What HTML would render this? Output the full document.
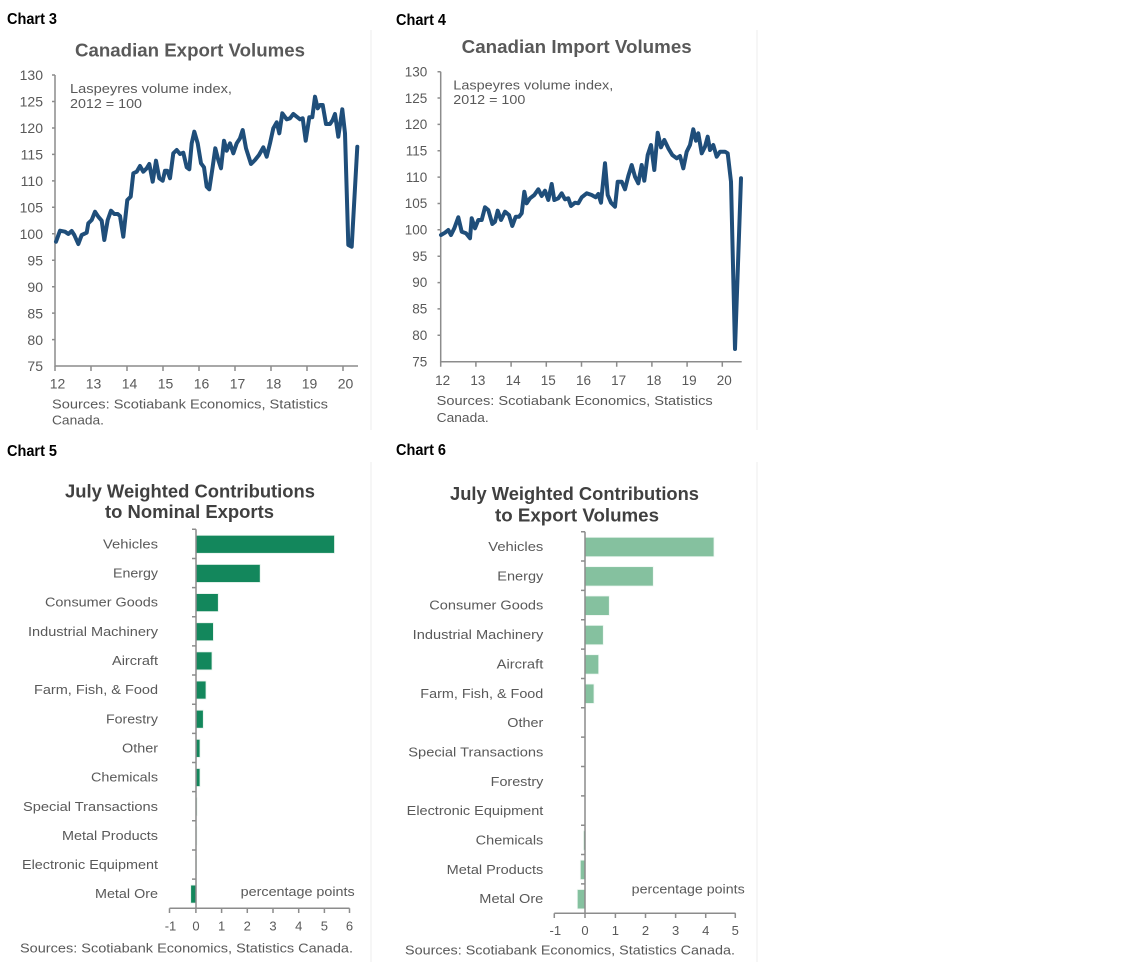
<!DOCTYPE html>
<html><head><meta charset="utf-8"><style>
html,body{margin:0;padding:0;background:#fff;}
svg{display:block;font-family:"Liberation Sans",Arial,sans-serif;}
.t{fill:#595959;font-size:13px;}
.ti{fill:#595959;font-size:18px;font-weight:bold;}
.ti2{fill:#404040;font-size:18px;font-weight:bold;}
.ch{fill:#000;font-size:16px;font-weight:bold;}
.ax{stroke:#8c8c8c;stroke-width:1.5;fill:none;}
</style></head><body>
<svg width="1133" height="966" viewBox="0 0 1133 966" xmlns="http://www.w3.org/2000/svg">
<rect width="1133" height="966" fill="#fff"/>
<!-- faint borders -->
<line x1="371" y1="30" x2="371" y2="430" stroke="#eeeeee" stroke-width="1"/>
<line x1="757" y1="30" x2="757" y2="430" stroke="#eeeeee" stroke-width="1"/>
<line x1="371" y1="462" x2="371" y2="962" stroke="#eeeeee" stroke-width="1"/>
<line x1="757" y1="462" x2="757" y2="962" stroke="#eeeeee" stroke-width="1"/>

<!-- ================= CHART 3 ================= -->
<text class="ch" x="7" y="24" textLength="50" lengthAdjust="spacingAndGlyphs">Chart 3</text>
<text class="ti" x="75" y="56.5" textLength="230" lengthAdjust="spacingAndGlyphs">Canadian Export Volumes</text>
<g class="t" style="font-size:14px" text-anchor="end">
<text x="43" y="80">130</text><text x="43" y="106.5">125</text><text x="43" y="133">120</text>
<text x="43" y="159.5">115</text><text x="43" y="186">110</text><text x="43" y="212.5">105</text>
<text x="43" y="239">100</text><text x="43" y="265.5">95</text><text x="43" y="292">90</text>
<text x="43" y="318.5">85</text><text x="43" y="345">80</text><text x="43" y="371">75</text>
</g>
<path class="ax" d="M55,75 V366 H358"/>
<path class="ax" d="M52,75.05H55M52,101.5H55M52,128H55M52,154.4H55M52,180.9H55M52,207.3H55M52,233.8H55M52,260.2H55M52,286.7H55M52,313.1H55M52,339.6H55
M55,366V371M91,366V371M127,366V371M163,366V371M199,366V371M235,366V371M271,366V371M307,366V371M343,366V371"/>
<g class="t" style="font-size:14px" text-anchor="middle">
<text x="57.5" y="388.5">12</text><text x="93.5" y="388.5">13</text><text x="129.5" y="388.5">14</text>
<text x="165.5" y="388.5">15</text><text x="201.5" y="388.5">16</text><text x="237.5" y="388.5">17</text>
<text x="273.5" y="388.5">18</text><text x="309.5" y="388.5">19</text><text x="345.5" y="388.5">20</text>
</g>
<text class="t" x="70" y="93" textLength="162" lengthAdjust="spacingAndGlyphs">Laspeyres volume index,</text>
<text class="t" x="70" y="108" textLength="72" lengthAdjust="spacingAndGlyphs">2012 = 100</text>
<polyline fill="none" stroke="#1f4e7a" stroke-width="4" stroke-linejoin="round" stroke-linecap="round" points="
56,241.7 60,230.7 65,231.7 68.3,234 71.7,231 74.3,235 78.3,244 81.7,235 86.7,232.7 88.3,223.3 91.7,220 95,211.7 98.3,216.7 101.7,220.7 104.3,240 107.7,220 111,210.7 114.3,214 117.7,214 120,216 123.3,236.7 127.3,200 130.7,196.7 133.3,173.3 136.7,171.7 140,166 143.3,171.7 146.7,168.3 149.3,164 152.7,181.7 156,160.7 159.3,178.3 162.7,180.7 165,170.7 167.3,170.7 170,178.3 173.3,153.3 176.7,150 180,154 183.3,152.7 186.7,167.3 189.3,169.3 191.7,143.3 194.3,131.7 197.7,143.3 201,163.3 204,167.3 206.7,186.7 209.3,189.3 212.7,166.7 215.3,148.3 218.3,160 221,168.3 224,140.7 226.7,150.7 230,143.3 233.3,153.3 236.7,143.3 240,138.3 242.7,130 246,148.3 251,164 255,160 259,155 263.3,147.3 266.7,156.7 270,143.3 273.3,128.3 276.7,122.3 279.3,133.3 282.3,113.3 286.7,119.3 290,118.3 293.3,114 296.7,116.7 300,119.3 302.7,118.3 305.7,140.7 309.3,117.3 312.3,117.3 315,96.7 317.7,108.3 320,105 322.7,105 326,124 330,124 332.7,120 335,114 338.3,136.7 342.3,109.3 345,133.3 348.3,245 351.7,246.7 357.3,146.7"/>
<text class="t" x="52" y="408.5" textLength="276" lengthAdjust="spacingAndGlyphs">Sources: Scotiabank Economics, Statistics</text>
<text class="t" x="52" y="424.5" textLength="52" lengthAdjust="spacingAndGlyphs">Canada.</text>

<!-- ================= CHART 4 ================= -->
<text class="ch" x="396" y="25" textLength="50" lengthAdjust="spacingAndGlyphs">Chart 4</text>
<text class="ti" x="461.7" y="53" textLength="230" lengthAdjust="spacingAndGlyphs">Canadian Import Volumes</text>
<g class="t" style="font-size:13.5px" text-anchor="end">
<text x="427.3" y="76.5">130</text><text x="427.3" y="102.8">125</text><text x="427.3" y="129.2">120</text>
<text x="427.3" y="155.5">115</text><text x="427.3" y="181.9">110</text><text x="427.3" y="208.2">105</text>
<text x="427.3" y="234.6">100</text><text x="427.3" y="260.9">95</text><text x="427.3" y="287.2">90</text>
<text x="427.3" y="313.6">85</text><text x="427.3" y="339.9">80</text><text x="427.3" y="366.3">75</text>
</g>
<path class="ax" d="M440.7,71.7 V361.7 H741.7"/>
<path class="ax" d="M437.5,71.7H440.7M437.5,98H440.7M437.5,124.4H440.7M437.5,150.8H440.7M437.5,177.1H440.7M437.5,203.5H440.7M437.5,229.8H440.7M437.5,256.2H440.7M437.5,282.6H440.7M437.5,308.9H440.7M437.5,335.3H440.7
M440.7,361.7V366.7M475.9,361.7V366.7M511.1,361.7V366.7M546.3,361.7V366.7M581.5,361.7V366.7M616.7,361.7V366.7M651.9,361.7V366.7M687.1,361.7V366.7M722.3,361.7V366.7"/>
<g class="t" style="font-size:13.5px" text-anchor="middle">
<text x="442.7" y="385">12</text><text x="477.9" y="385">13</text><text x="513.1" y="385">14</text>
<text x="548.3" y="385">15</text><text x="583.5" y="385">16</text><text x="618.7" y="385">17</text>
<text x="653.9" y="385">18</text><text x="689.1" y="385">19</text><text x="724.3" y="385">20</text>
</g>
<text class="t" x="453.3" y="89.7" textLength="160" lengthAdjust="spacingAndGlyphs">Laspeyres volume index,</text>
<text class="t" x="453.3" y="104" textLength="72" lengthAdjust="spacingAndGlyphs">2012 = 100</text>
<polyline fill="none" stroke="#1f4e7a" stroke-width="4" stroke-linejoin="round" stroke-linecap="round" points="
441,235 445,232.7 448.3,230 451,235 454.3,228.3 458.3,217.3 461.7,231.7 466,233.3 470,238.3 471.7,218.3 475,228.3 478.3,220 481.7,220 485,207.3 488.3,210 492.3,224 495,221.7 497.7,210.7 501,220 505,211.7 509,215 512.3,226 515.7,216.7 519,216.7 521.7,213.3 524.3,191.7 526.7,203.3 530,198.3 534.3,195 538.3,189.3 541.7,196 545,190.7 548.3,200 551.7,184 554.3,200 558.3,198.3 561.7,193.3 565,199.3 568.3,198.3 571,206 575,202.7 578.3,203.3 581.7,197.3 586.7,193.3 591.7,195 595.7,197.3 598.3,194 601,202.7 605,163.3 607.7,195 611,202.7 615,206.7 617.7,181.7 621.7,181.7 625,189.3 628.3,176 631.7,165 635,176.7 638.3,183.3 641.7,165 644.3,180.7 647.7,155 651,145 654.3,170 657.7,132.7 661,147.3 664.3,140 668.3,148.3 672.3,155 676.7,158.3 680,156 683.3,168.3 686.7,151.7 690,145 693.3,129.3 696,140.7 698.3,133.3 701.7,153.3 705,146.7 707.7,136.7 710,150 713.3,145 716.7,156.7 720,151.7 725,151.7 727.7,153.3 731,181.7 735,349 741,178.3"/>
<text class="t" x="436.7" y="405" textLength="276" lengthAdjust="spacingAndGlyphs">Sources: Scotiabank Economics, Statistics</text>
<text class="t" x="436.7" y="422" textLength="52" lengthAdjust="spacingAndGlyphs">Canada.</text>

<!-- ================= CHART 5 ================= -->
<text class="ch" x="7" y="456" textLength="50" lengthAdjust="spacingAndGlyphs">Chart 5</text>
<text class="ti2" x="65" y="497.5" textLength="250" lengthAdjust="spacingAndGlyphs">July Weighted Contributions</text>
<text class="ti2" x="105" y="518" textLength="169" lengthAdjust="spacingAndGlyphs">to Nominal Exports</text>
<g fill="#13875c" stroke="#e6f2ec" stroke-width="0.8">
<rect x="196" y="535.3" width="138.5" height="18"/>
<rect x="196" y="564.45" width="64.2" height="18"/>
<rect x="196" y="593.6" width="22.3" height="18"/>
<rect x="196" y="622.75" width="17.4" height="18"/>
<rect x="196" y="651.9" width="16" height="18"/>
<rect x="196" y="681.05" width="10" height="18"/>
<rect x="196" y="710.2" width="7.3" height="18"/>
<rect x="196" y="739.35" width="4" height="18"/>
<rect x="196" y="768.5" width="4" height="18"/>
<rect x="196" y="797.65" width="1" height="18"/>
<rect x="196" y="826.8" width="0.8" height="18"/>
<rect x="196" y="855.95" width="0.6" height="18"/>
<rect x="190.7" y="885.1" width="5.3" height="18"/>
</g>
<path class="ax" d="M196,529.3V908.3M169.5,908.3H349.5"/>
<path class="ax" d="M192,529.3H196M192,558.45H196M192,587.6H196M192,616.75H196M192,645.9H196M192,675.05H196M192,704.2H196M192,733.35H196M192,762.5H196M192,791.65H196M192,820.8H196M192,849.95H196M192,879.1H196
M169.5,908.3V913M195.9,908.3V913M221.6,908.3V913M247.3,908.3V913M273,908.3V913M298.7,908.3V913M324.4,908.3V913M349.5,908.3V913"/>
<g class="t" text-anchor="end">
<text x="158" y="548.4" textLength="55" lengthAdjust="spacingAndGlyphs">Vehicles</text>
<text x="158" y="577.6" textLength="45" lengthAdjust="spacingAndGlyphs">Energy</text>
<text x="158" y="606.7" textLength="113" lengthAdjust="spacingAndGlyphs">Consumer Goods</text>
<text x="158" y="635.9" textLength="130" lengthAdjust="spacingAndGlyphs">Industrial Machinery</text>
<text x="158" y="665" textLength="46" lengthAdjust="spacingAndGlyphs">Aircraft</text>
<text x="158" y="694.2" textLength="124" lengthAdjust="spacingAndGlyphs">Farm, Fish, &amp; Food</text>
<text x="158" y="723.3" textLength="52" lengthAdjust="spacingAndGlyphs">Forestry</text>
<text x="158" y="752.5" textLength="36" lengthAdjust="spacingAndGlyphs">Other</text>
<text x="158" y="781.6" textLength="67" lengthAdjust="spacingAndGlyphs">Chemicals</text>
<text x="158" y="810.8" textLength="135" lengthAdjust="spacingAndGlyphs">Special Transactions</text>
<text x="158" y="839.9" textLength="96" lengthAdjust="spacingAndGlyphs">Metal Products</text>
<text x="158" y="869.1" textLength="136" lengthAdjust="spacingAndGlyphs">Electronic Equipment</text>
<text x="158" y="898.2" textLength="63" lengthAdjust="spacingAndGlyphs">Metal Ore</text>
</g>
<text class="t" x="240.7" y="896" textLength="114" lengthAdjust="spacingAndGlyphs">percentage points</text>
<g class="t" text-anchor="middle">
<text x="170.5" y="930.5">-1</text><text x="196" y="930.5">0</text><text x="221.6" y="930.5">1</text>
<text x="247.3" y="930.5">2</text><text x="273" y="930.5">3</text><text x="298.7" y="930.5">4</text>
<text x="324.4" y="930.5">5</text><text x="349.5" y="930.5">6</text>
</g>
<text class="t" x="20" y="952.5" textLength="333" lengthAdjust="spacingAndGlyphs">Sources: Scotiabank Economics, Statistics Canada.</text>

<!-- ================= CHART 6 ================= -->
<text class="ch" x="396" y="455" textLength="50" lengthAdjust="spacingAndGlyphs">Chart 6</text>
<text class="ti2" x="450" y="500" textLength="249" lengthAdjust="spacingAndGlyphs">July Weighted Contributions</text>
<text class="ti2" x="495" y="521.5" textLength="164" lengthAdjust="spacingAndGlyphs">to Export Volumes</text>
<g fill="#85c19f" stroke="#eef7f2" stroke-width="0.8">
<rect x="585" y="537.3" width="129" height="19.4"/>
<rect x="585" y="566.65" width="68.3" height="19.4"/>
<rect x="585" y="596" width="24.3" height="19.4"/>
<rect x="585" y="625.35" width="18.3" height="19.4"/>
<rect x="585" y="654.7" width="13.7" height="19.4"/>
<rect x="585" y="684.05" width="9" height="19.4"/>
<rect x="583.5" y="830.8" width="1.5" height="19.4"/>
<rect x="580.3" y="860.15" width="4.7" height="19.4"/>
<rect x="577.3" y="889.5" width="7.7" height="19.4"/>
</g>
<path class="ax" d="M585,531.7V913.3M554.3,913.3H735.5"/>
<path class="ax" d="M581,531.7H585M581,561.05H585M581,590.4H585M581,619.75H585M581,649.1H585M581,678.45H585M581,707.8H585M581,737.15H585M581,766.5H585M581,795.85H585M581,825.2H585M581,854.55H585M581,883.9H585
M554.3,913.3V918M585,913.3V918M615.4,913.3V918M645.5,913.3V918M675.6,913.3V918M705.7,913.3V918M735.3,913.3V918"/>
<g class="t" text-anchor="end">
<text x="543.3" y="551" textLength="55" lengthAdjust="spacingAndGlyphs">Vehicles</text>
<text x="543.3" y="580.4" textLength="46" lengthAdjust="spacingAndGlyphs">Energy</text>
<text x="543.3" y="609.7" textLength="114" lengthAdjust="spacingAndGlyphs">Consumer Goods</text>
<text x="543.3" y="639.1" textLength="130.6" lengthAdjust="spacingAndGlyphs">Industrial Machinery</text>
<text x="543.3" y="668.4" textLength="46.6" lengthAdjust="spacingAndGlyphs">Aircraft</text>
<text x="543.3" y="697.8" textLength="123" lengthAdjust="spacingAndGlyphs">Farm, Fish, &amp; Food</text>
<text x="543.3" y="727.1" textLength="36" lengthAdjust="spacingAndGlyphs">Other</text>
<text x="543.3" y="756.5" textLength="135" lengthAdjust="spacingAndGlyphs">Special Transactions</text>
<text x="543.3" y="785.8" textLength="52.6" lengthAdjust="spacingAndGlyphs">Forestry</text>
<text x="543.3" y="815.2" textLength="136.6" lengthAdjust="spacingAndGlyphs">Electronic Equipment</text>
<text x="543.3" y="844.5" textLength="67.6" lengthAdjust="spacingAndGlyphs">Chemicals</text>
<text x="543.3" y="873.9" textLength="96.6" lengthAdjust="spacingAndGlyphs">Metal Products</text>
<text x="543.3" y="903.2" textLength="64" lengthAdjust="spacingAndGlyphs">Metal Ore</text>
</g>
<text class="t" x="631.7" y="893.5" textLength="113" lengthAdjust="spacingAndGlyphs">percentage points</text>
<g class="t" text-anchor="middle">
<text x="555.3" y="935">-1</text><text x="585" y="935">0</text><text x="615.4" y="935">1</text>
<text x="645.5" y="935">2</text><text x="675.6" y="935">3</text><text x="705.7" y="935">4</text>
<text x="735.3" y="935">5</text>
</g>
<text class="t" x="405" y="954.5" textLength="330" lengthAdjust="spacingAndGlyphs">Sources: Scotiabank Economics, Statistics Canada.</text>
</svg>
</body></html>
